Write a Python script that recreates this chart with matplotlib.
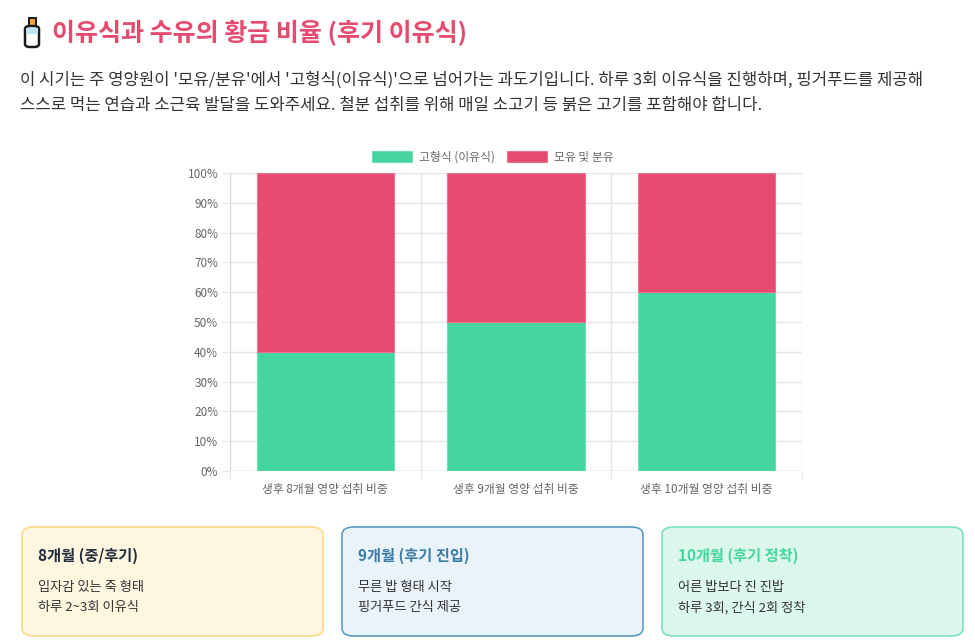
import matplotlib
matplotlib.use('Agg')
import matplotlib.pyplot as plt
from matplotlib.patches import FancyBboxPatch, Rectangle
from matplotlib.ticker import FuncFormatter, MultipleLocator

plt.rcParams['font.family'] = ['Noto Sans CJK KR', 'DejaVu Sans']

# data
categories = ['생후 8개월 영양 섭취 비중', '생후 9개월 영양 섭취 비중', '생후 10개월 영양 섭취 비중']
solid_food = [40, 50, 60]
milk = [60, 50, 40]
series_names = ['고형식 (이유식)', '모유 및 분유']

title = '이유식과 수유의 황금 비율 (후기 이유식)'
desc_lines = [
    "이 시기는 주 영양원이 '모유/분유'에서 '고형식(이유식)'으로 넘어가는 과도기입니다. 하루 3회 이유식을 진행하며, 핑거푸드를 제공해",
    "스스로 먹는 연습과 소근육 발달을 도와주세요. 철분 섭취를 위해 매일 소고기 등 붉은 고기를 포함해야 합니다.",
]
card_titles = ['8개월 (중/후기)', '9개월 (후기 진입)', '10개월 (후기 정착)']
card_lines = [
    ['입자감 있는 죽 형태', '하루 2~3회 이유식'],
    ['무른 밥 형태 시작', '핑거푸드 간식 제공'],
    ['어른 밥보다 진 진밥', '하루 3회, 간식 2회 정착'],
]

GREEN = '#45d6a0'
RED = '#e54b6e'
W, H = 975, 642

fig = plt.figure(figsize=(W / 100, H / 100), dpi=100)
fig.patch.set_facecolor('white')

def fx(px):
    return px / W

def fy(py):
    return 1 - py / H

# title, with a small baby bottle drawn in front
fig.patches.append(Rectangle((fx(28.5), fy(27)), fx(7), fy(18) - fy(27), transform=fig.transFigure,
                             facecolor='#f2a93b', edgecolor='#1a1a1a', lw=1.4))
fig.patches.append(FancyBboxPatch((fx(25), fy(47)), fx(14), fy(26) - fy(47),
                                  boxstyle='round,pad=0,rounding_size=0.005', transform=fig.transFigure,
                                  facecolor='#ffffff', edgecolor='#1a1a1a', lw=1.8))
fig.patches.append(Rectangle((fx(26.2), fy(34)), fx(11.6), fy(27.5) - fy(34), transform=fig.transFigure,
                             facecolor='#bfe3f7', edgecolor='none'))
fig.text(fx(52), fy(33), title, fontsize=18, fontweight='bold', color=RED, va='center', ha='left')

for i, line in enumerate(desc_lines):
    fig.text(fx(20), fy(80 + 25 * i), line, fontsize=12, fontweight='medium', color='#333333',
             va='center', ha='left')

# chart
ax = fig.add_axes([fx(230), fy(471), fx(802) - fx(230), fy(173) - fy(471)])
x = range(len(categories))
ax.bar(x, solid_food, width=0.72, color=GREEN, edgecolor='#6ee0b6', lw=0.8, label=series_names[0], zorder=3)
ax.bar(x, milk, width=0.72, bottom=solid_food, color=RED, edgecolor='#ec7390', lw=0.8,
       label=series_names[1], zorder=3)
ax.set_xlim(-0.5, len(categories) - 0.5)
ax.set_ylim(0, 100)
ax.yaxis.set_major_locator(MultipleLocator(10))
ax.yaxis.set_major_formatter(FuncFormatter(lambda v, p: f'{int(v)}%'))
ax.set_xticks([i + 0.5 for i in range(-1, len(categories))], minor=False)
ax.set_xticklabels([])
ax.set_xticks(list(x), minor=True)
ax.set_xticklabels(categories, minor=True)
ax.grid(True, axis='both', which='major', color='#e5e5e5', lw=1, zorder=0)
for s in ax.spines.values():
    s.set_visible(False)
ax.tick_params(axis='both', which='major', length=6, color='#e5e5e5', labelsize=8.5, labelcolor='#666666', pad=2.5)
ax.tick_params(axis='x', which='minor', length=0, labelsize=8.5, labelcolor='#666666', pad=9)
ax.axhline(0, color='#dddddd', lw=1, zorder=2)
ax.axvline(-0.5, color='#dddddd', lw=1, zorder=2)
ax.legend(loc='lower center', bbox_to_anchor=(0.46, 1.0), ncol=2, frameon=False, fontsize=8.5,
          handlelength=3.4, handleheight=1.0, columnspacing=1.0, handletextpad=0.6, labelcolor='#666666',
          borderaxespad=0.4)

# info cards
card_x = [22, 342, 662]
card_styles = [
    ('#fff6e0', '#fcd98a', '#1f2d3d'),
    ('#eaf3fa', '#5c9cc2', '#3a7ca8'),
    ('#dcf7ec', '#7fe0bb', '#45d6a0'),
]
for cx, ttl, lines, (bg, bd, tc) in zip(card_x, card_titles, card_lines, card_styles):
    box = FancyBboxPatch((fx(cx), fy(636)), fx(301), fy(527) - fy(636),
                         boxstyle='round,pad=0,rounding_size=0.012', transform=fig.transFigure,
                         facecolor=bg, edgecolor=bd, lw=1.2)
    fig.patches.append(box)
    fig.text(fx(cx + 16), fy(556), ttl, fontsize=11, fontweight='bold', color=tc, va='center', ha='left')
    for j, ln in enumerate(lines):
        fig.text(fx(cx + 16), fy(587 + 21 * j), ln, fontsize=9.5, color='#333333', va='center', ha='left')

fig.savefig('out.png', dpi=100)
